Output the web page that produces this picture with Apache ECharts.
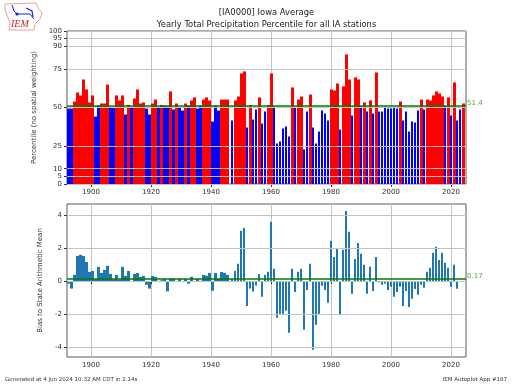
<!DOCTYPE html>
<html>
<head>
<meta charset="utf-8">
<script src="https://cdn.jsdelivr.net/npm/echarts@6/dist/echarts.min.js"></script>
<style>
  html, body { margin: 0; padding: 0; background: #fff; }
  #chart { width: 512px; height: 384px; }
</style>
</head>
<body>
<div id="chart"></div>
<script>
// values, one per year from firstYear
const firstYear = 1893;
const percentile = [
  49.3, 49.3, 53.9, 59.8, 57.9, 68.3, 61.8, 53.3, 57.9, 44.1,
  51.2, 52.6, 52.6, 65.0, 50.0, 49.6, 57.9, 54.6, 57.9, 45.4,
  51.7, 49.8, 55.9, 61.8, 52.6, 53.3, 49.3, 45.4, 52.6, 55.2,
  50.0, 51.7, 51.2, 50.7, 60.5, 48.7, 52.6, 50.0, 48.0, 52.6,
  51.2, 54.6, 56.6, 49.3, 51.2, 55.2, 56.6, 54.6, 40.8, 51.2,
  48.0, 55.2, 55.2, 55.2, 41.5, 54.6, 57.2, 72.3, 73.6, 36.9,
  51.7, 42.1, 48.7, 56.6, 39.5, 47.4, 51.7, 72.3, 50.7, 26.4,
  27.7, 36.2, 37.6, 31.0, 63.1, 49.8, 55.2, 57.2, 22.5, 47.4,
  58.5, 36.9, 26.4, 34.3, 48.0, 46.0, 41.5, 61.8, 61.1, 65.7,
  35.6, 63.8, 84.7, 68.3, 44.8, 69.7, 68.3, 50.7, 53.3, 47.4,
  54.6, 46.0, 72.9, 47.4, 47.4, 50.7, 49.3, 49.3, 50.0, 49.3,
  53.9, 41.5, 47.4, 34.3, 40.8, 40.2, 48.0, 55.2, 48.7, 55.2,
  54.6, 57.9, 60.5, 59.2, 57.2, 51.2, 56.6, 44.8, 66.4, 41.5,
  48.7, 52.6
];
const bias = [
  -0.15, -0.45, 0.38, 1.53, 1.6, 1.53, 1.17, 0.56, 0.62, 0.12,
  0.87, 0.5, 0.68, 0.93, 0.44, 0.12, 0.38, 0.1, 0.87, 0.32,
  0.62, -0.05, 0.44, 0.5, 0.26, 0.32, -0.22, -0.45, 0.32, 0.26,
  0.02, 0.05, 0.14, -0.62, 0.15, 0.15, -0.03, 0.14, 0.01, 0.14,
  -0.15, 0.26, -0.03, 0.14, 0.02, 0.38, 0.33, 0.5, -0.58, 0.5,
  0.15, 0.56, 0.5, 0.38, 0.15, 0.62, 1.05, 3.05, 3.23, -1.5,
  -0.45, -0.62, -0.27, 0.44, -0.95, 0.38, 0.57, 3.6, 0.75, -2.22,
  -1.98, -1.98, -1.8, -3.13, 0.75, -0.65, 0.57, 0.75, -2.95, -0.53,
  1.05, -4.16, -2.65, -1.98, -0.28, -0.53, -1.31, 2.44, 1.47, 1.96,
  -2.02, 1.9, 4.26, 2.99, -0.77, 1.35, 2.32, 1.66, 0.99, -0.77,
  0.87, -0.59, 1.47, -0.08, -0.22, -0.14, -0.53, -0.34, -0.95, -0.65,
  -0.34, -1.5, -0.59, -1.56, -1.07, -0.48, -0.83, -0.22, -0.4, 0.57,
  0.81, 1.72, 2.08, 1.29, 1.72, 1.11, 0.81, -0.34, 0.99, -0.46,
  0.01, -0.04
];
const meanPercentile = 51.4;
const meanBias = 0.17;
const yearTicks = [1900, 1920, 1940, 1960, 1980, 2000, 2020];
const percentileTicks = [0, 5, 10, 25, 50, 75, 90, 95, 100];
const biasTicks = [-4, -2, 0, 2, 4];

const FONT = '"DejaVu Sans"';
const TEXT = '#333';
const GRID_LINE = '#c4c4c4';
const SPINE = '#5a5a5a';
// bars before this year sit side by side, later ones are thinner with gaps
const narrowFrom = 1947;

function pairs(values, test) {
  const out = [];
  values.forEach(function (v, i) {
    const year = firstYear + i;
    if (test(year, v)) out.push([year, v]);
  });
  return out;
}

// x axis for one grid, shift moves the bars by a fraction of a year
function xAxisFor(gridIndex, shift, visible) {
  return {
    type: 'value',
    gridIndex: gridIndex,
    min: 1892 + shift,
    max: 2025 + shift,
    show: visible,
    axisLine: { show: false },
    axisTick: { show: true, length: 3, lineStyle: { color: TEXT, width: 1 }, customValues: yearTicks },
    axisLabel: {
      show: true, customValues: yearTicks, color: TEXT, fontFamily: FONT, fontSize: 7, margin: 5,
      formatter: function (v) { return String(v); }
    },
    splitLine: { show: true, lineStyle: { color: GRID_LINE, width: 1 } }
  };
}

function yAxisFor(gridIndex, min, max, ticks, name, nameGap) {
  return {
    type: 'value',
    gridIndex: gridIndex,
    min: min,
    max: max,
    z: 3,
    name: name,
    nameLocation: 'middle',
    nameGap: nameGap,
    nameTextStyle: { color: TEXT, fontFamily: FONT, fontSize: 7 },
    axisLine: { show: false },
    axisTick: { show: true, length: 3, lineStyle: { color: TEXT, width: 1 }, customValues: ticks },
    axisLabel: { customValues: ticks, color: TEXT, fontFamily: FONT, fontSize: 7, margin: 5 },
    splitLine: { show: true, lineStyle: { color: GRID_LINE, width: 1 } }
  };
}

function meanLine(value, text) {
  return {
    silent: true,
    symbol: 'none',
    animation: false,
    lineStyle: { color: '#007f00', width: 1.5, type: 'solid' },
    label: { show: true, position: 'end', distance: 1, offset: [0, -2], formatter: text, color: '#45a845', fontFamily: FONT, fontSize: 7 },
    data: [{ yAxis: value }]
  };
}

function barSeries(data, xi, yi, color, width, extra) {
  return Object.assign({
    type: 'bar',
    xAxisIndex: xi,
    yAxisIndex: yi,
    data: data,
    barWidth: width,
    barGap: '-100%',
    itemStyle: { color: color },
    animation: false
  }, extra || {});
}

const chart = echarts.init(document.getElementById('chart'), null, { renderer: 'canvas' });

chart.setOption({
  backgroundColor: '#fff',
  animation: false,
  title: {
    text: '[IA0000] Iowa Average\nYearly Total Precipitation Percentile for all IA stations',
    left: 266.5,
    top: 7,
    padding: 0,
    textAlign: 'center',
    textStyle: { color: '#222', fontFamily: FONT, fontSize: 8.4, fontWeight: 'normal', lineHeight: 12 }
  },
  grid: [
    { left: 67, top: 31, width: 399, height: 153, show: true, borderColor: SPINE, borderWidth: 1, backgroundColor: 'transparent' },
    { left: 67, top: 204, width: 399, height: 153, show: true, borderColor: SPINE, borderWidth: 1, backgroundColor: 'transparent' }
  ],
  xAxis: [
    xAxisFor(0, 0, true),
    xAxisFor(0, 0.5, false),      // 0: ticks and thin blue, 1: early bars
    xAxisFor(0, -1 / 6, false),   // 2: later red bars
    xAxisFor(1, 0, true),
    xAxisFor(1, 0.5, false)       // 3: ticks and thin bars, 4: early bars
  ],
  yAxis: [
    yAxisFor(0, 0, 100, percentileTicks, 'Percentile (no spatial weighting)', 17),
    yAxisFor(1, -4.6, 4.68, biasTicks, 'Bias to State Arithmetic Mean', 16)
  ],
  series: [
    barSeries(pairs(percentile, function (y, v) { return y < narrowFrom && v <= meanPercentile; }), 1, 0, '#0000ff', 3),
    barSeries(pairs(percentile, function (y, v) { return y < narrowFrom && v > meanPercentile; }), 1, 0, '#ff0000', 3),
    barSeries(pairs(percentile, function (y, v) { return y >= narrowFrom && v <= meanPercentile; }), 0, 0, '#0000ff', 2, {
      markLine: meanLine(meanPercentile, String(meanPercentile))
    }),
    barSeries(pairs(percentile, function (y, v) { return y >= narrowFrom && v > meanPercentile; }), 2, 0, '#ff0000', 3),
    barSeries(pairs(bias, function (y) { return y < narrowFrom; }), 4, 1, '#1f77b4', 3),
    barSeries(pairs(bias, function (y) { return y >= narrowFrom; }), 3, 1, '#1f77b4', 2, {
      markLine: meanLine(meanBias, String(meanBias))
    })
  ],
  graphic: [
    { type: 'text', left: 5, top: 377, style: { text: 'Generated at 4 Jun 2024 10:32 AM CDT in 2.14s', fill: '#333', font: '5.5px ' + FONT } },
    { type: 'text', right: 5, top: 377, style: { text: 'IEM Autoplot App #187', fill: '#333', font: '5.5px ' + FONT } },
    // IEM logo: state outline, blue network, lettering
    { type: 'polyline', shape: { points: [[5, 4], [36, 3], [38, 8], [42, 13], [40, 19], [35, 24], [34, 30], [9, 30], [10, 23], [7, 15], [5, 9], [5, 4]] }, style: { stroke: '#e08a8a', fill: 'none', lineWidth: 0.8 } },
    { type: 'polyline', shape: { points: [[12, 5], [14, 11], [17, 14], [30, 14], [34, 19]] }, style: { stroke: '#2222cc', fill: 'none', lineWidth: 1 } },
    { type: 'polyline', shape: { points: [[26, 8], [32, 11], [33, 17]] }, style: { stroke: '#2222cc', fill: 'none', lineWidth: 1.2 } },
    { type: 'circle', shape: { cx: 17, cy: 14, r: 1.6 }, style: { fill: '#2222cc' } },
    { type: 'text', left: 11, top: 19, style: { text: 'IEM', fill: '#cc2222', font: 'italic 10px "Liberation Serif"' } }
  ]
});
</script>
</body>
</html>
